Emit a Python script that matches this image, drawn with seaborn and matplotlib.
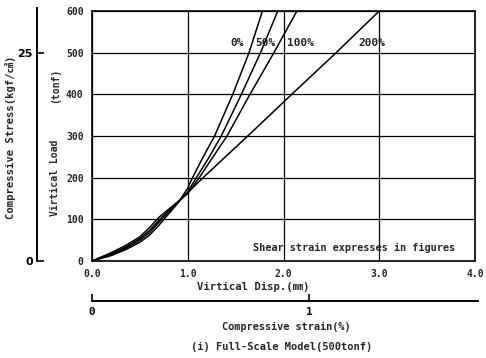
import numpy as np
import pandas as pd
import matplotlib
matplotlib.use("Agg")
import matplotlib.pyplot as plt
import seaborn as sns

# ---- data ----
series = ["0%", "50%", "100%", "200%"]
disp_0 = [0, 0.2, 0.35, 0.5, 0.6, 0.7, 0.8, 0.9, 1.0, 1.05, 1.15, 1.28, 1.47, 1.64, 1.78]
load_0 = [0, 13, 27, 45, 62, 86, 113, 140, 175, 200, 245, 300, 400, 500, 600]
disp_50 = [0, 0.2, 0.35, 0.5, 0.6, 0.7, 0.8, 0.9, 1.0, 1.09, 1.22, 1.35, 1.56, 1.76, 1.94]
load_50 = [0, 15, 30, 50, 68, 93, 117, 141, 166, 200, 248, 300, 400, 500, 600]
disp_100 = [0, 0.2, 0.35, 0.5, 0.6, 0.7, 0.8, 0.9, 1.0, 1.12, 1.25, 1.41, 1.65, 1.90, 2.14]
load_100 = [0, 17, 33, 54, 73, 98, 121, 142, 162, 200, 245, 300, 400, 500, 600]
disp_200 = [0, 0.2, 0.35, 0.5, 0.6, 0.7, 0.8, 0.9, 1.0, 1.16, 1.65, 2.1, 2.55, 3.0]
load_200 = [0, 20, 37, 58, 80, 105, 124, 143, 164, 200, 305, 403, 500, 600]
label_x = [1.44, 1.70, 2.04, 2.78]
label_y = 523
x_ticks = [0.0, 1.0, 2.0, 3.0, 4.0]
x_ticklabels = ["0.0", "1.0", "2.0", "3.0", "4.0"]
y_ticks = [0, 100, 200, 300, 400, 500, 600]
stress_ticks = [0, 25]
strain_ticks = [0, 1]

frames = []
for name, d, l in zip(series, [disp_0, disp_50, disp_100, disp_200],
                      [load_0, load_50, load_100, load_200]):
    frames.append(pd.DataFrame({"disp": d, "load": l, "series": name}))
df = pd.concat(frames, ignore_index=True)

sns.set_style("white")
MONO = ["DejaVu Sans Mono", "Noto Sans CJK JP"]
plt.rcParams["font.family"] = MONO
plt.rcParams["font.weight"] = "bold"

W, H = 486, 358
fig = plt.figure(figsize=(W / 100, H / 100), dpi=100)

def fx(px):
    return px / W

def fy(py):
    return 1 - py / H

ax = fig.add_axes([fx(92), fy(261), fx(475) - fx(92), fy(11) - fy(261)])
sns.lineplot(data=df, x="disp", y="load", hue="series", palette=["black"] * 4,
             legend=False, sort=False, estimator=None, linewidth=1.1, ax=ax)
ax.set_xlim(0, 4)
ax.set_ylim(0, 600)
ax.set_xticks(x_ticks)
ax.set_xticklabels(x_ticklabels)
ax.set_yticks(y_ticks)
ax.tick_params(length=0, labelsize=7, pad=6)
for t in ax.get_xticklabels() + ax.get_yticklabels():
    t.set_fontweight("bold")
ax.grid(True, color="black", linewidth=0.9)
for s in ax.spines.values():
    s.set_color("black")
    s.set_linewidth(1.2)
ax.set_xlabel("")
ax.set_ylabel("")

for name, lx in zip(series, label_x):
    ax.text(lx, label_y, name, fontsize=8, fontweight="bold", va="center", ha="left")
ax.text(1.68, 31, "Shear strain expresses in figures", fontsize=7.4,
        fontweight="bold", va="center", ha="left")

# x label
fig.text(fx(253), fy(287), "Virtical Disp.(㎜)", fontsize=7.6, fontweight="bold",
         ha="center", va="center", family=MONO)
# y label
fig.text(fx(55), fy(178), "Virtical Load", fontsize=7, fontweight="bold",
         rotation=90, ha="center", va="center")
fig.text(fx(55), fy(85), "(tonf)", fontsize=7, fontweight="bold",
         rotation=90, ha="center", va="center")

# stress axis
ax2 = fig.add_axes([fx(37), fy(261), 0.001, fy(8) - fy(261)])
ax2.set_ylim(0, 30 * (261 - 8) / (261 - 11))
for k in ["top", "right", "bottom"]:
    ax2.spines[k].set_visible(False)
ax2.spines["left"].set_color("black")
ax2.spines["left"].set_linewidth(1.4)
ax2.set_xticks([])
ax2.set_yticks(stress_ticks)
ax2.set_yticklabels([str(v) for v in stress_ticks])
ax2.tick_params(axis="y", left=True, direction="in", length=5, width=1.2,
                labelsize=8, pad=3, colors="black")
for t in ax2.get_yticklabels():
    t.set_fontfamily(["Liberation Sans Narrow", "DejaVu Sans"])
ax2.patch.set_visible(False)
fig.text(fx(11), fy(137), "Compressive Stress(kgf/㎠)", fontsize=7.6, fontweight="bold",
         rotation=90, ha="center", va="center", family=MONO)

# strain axis
ax3 = fig.add_axes([fx(92), fy(301), fx(478) - fx(92), 0.001])
ax3.set_xlim(0, 1 * (478 - 92) / (309 - 92))
for k in ["top", "right", "left"]:
    ax3.spines[k].set_visible(False)
ax3.spines["bottom"].set_color("black")
ax3.spines["bottom"].set_linewidth(1.4)
ax3.set_yticks([])
ax3.set_xticks(strain_ticks)
ax3.set_xticklabels([str(v) for v in strain_ticks])
ax3.tick_params(axis="x", bottom=True, direction="in", length=5, width=1.2,
                labelsize=8, pad=4, colors="black")
ax3.patch.set_visible(False)
fig.text(fx(286), fy(327), "Compressive strain(%)", fontsize=7.4, fontweight="bold",
         ha="center", va="center")
fig.text(fx(282), fy(347), "(i) Full-Scale Model(500tonf)", fontsize=7.5,
         fontweight="bold", ha="center", va="center")

fig.savefig("out.png", dpi=100, facecolor="white")
